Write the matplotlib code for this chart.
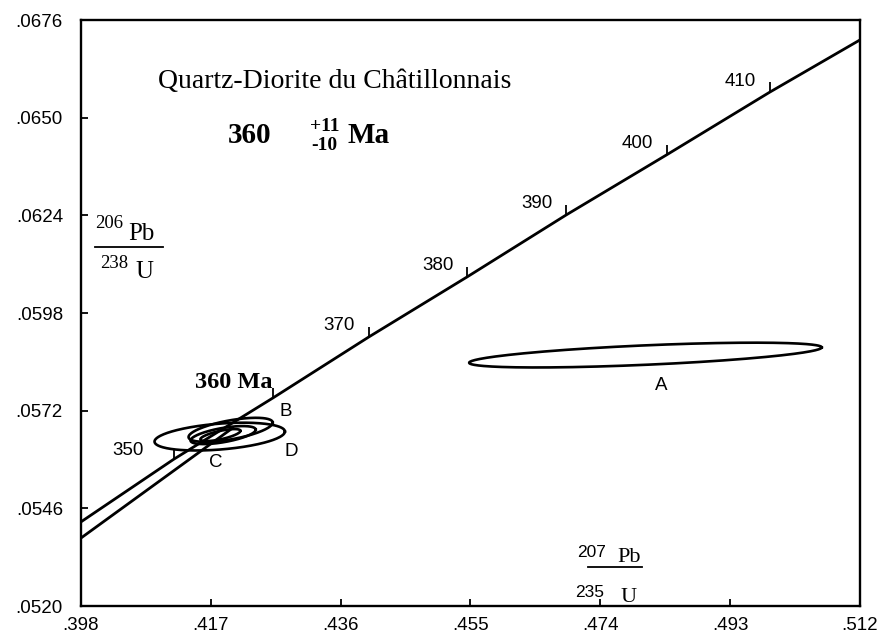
import numpy as np
import matplotlib
matplotlib.use("Agg")
import matplotlib.pyplot as plt

# axis ticks
x_ticks = [0.398, 0.417, 0.436, 0.455, 0.474, 0.493, 0.512]
x_tick_labels = ['.398', '.417', '.436', '.455', '.474', '.493', '.512']
y_ticks = [0.0520, 0.0546, 0.0572, 0.0598, 0.0624, 0.0650, 0.0676]
y_tick_labels = ['.0520', '.0546', '.0572', '.0598', '.0624', '.0650', '.0676']

# concordia: age marks
ages = [350, 360, 370, 380, 390, 400, 410]
conc_x = [0.4116, 0.4261, 0.4401, 0.4545, 0.4690, 0.4837, 0.4988]
conc_y = [0.05591, 0.05754, 0.05916, 0.06076, 0.06241, 0.06401, 0.06568]
# where the curve meets the frame
conc_ends_x = [0.398, 0.512]
conc_ends_y = [0.05424, 0.06707]

# second line in the lower left
disc_x = [0.398, 0.4202]
disc_y = [0.05381, 0.05674]

# error ellipses (centre, half widths, correlation)
ell_x = [0.4806, 0.4199, 0.4188, 0.4184, 0.4183]
ell_y = [0.05868, 0.05669, 0.05655, 0.05655, 0.05651]
ell_sx = [0.0258, 0.00616, 0.00477, 0.00293, 0.00954]
ell_sy = [0.00033, 0.00032, 0.00024, 0.00016, 0.00037]
ell_rho = [0.62, 0.6, 0.6, 0.7, 0.36]

# fraction labels A-D
frac_names = ['A', 'B', 'C', 'D']
frac_x = [0.4829, 0.4279, 0.4177, 0.4287]
frac_y = [0.05788, 0.05717, 0.05583, 0.05610]

serif = 'Liberation Serif'
sans = 'Liberation Sans'

fig = plt.figure(figsize=(8.78, 6.36), dpi=100)
ax = fig.add_axes([81 / 878, 30 / 636, 779 / 878, 586 / 636])

# concordia curve
cx = [conc_ends_x[0]] + conc_x + [conc_ends_x[1]]
cy = [conc_ends_y[0]] + conc_y + [conc_ends_y[1]]
ax.plot(cx, cy, color='black', lw=2.0, solid_capstyle='butt')
ax.plot(conc_x, conc_y, ls='none', marker=2, ms=7, mew=1.3, color='black')

ax.plot(disc_x, disc_y, color='black', lw=2.0)

t = np.linspace(0, 2 * np.pi, 300)
for x0, y0, sx, sy, r in zip(ell_x, ell_y, ell_sx, ell_sy, ell_rho):
    ex = x0 + sx * np.cos(t)
    ey = y0 + sy * (r * np.cos(t) + np.sqrt(1 - r ** 2) * np.sin(t))
    ax.plot(ex, ey, color='black', lw=1.9)

# age labels on the concordia
for a, x, y in zip(ages, conc_x, conc_y):
    if a == 360:
        continue
    off = (-33, 6) if a == 350 else (-21, 8)
    ax.annotate(str(a), (x, y), xytext=off, textcoords='offset points',
                ha='center', va='center', fontsize=13.5, family=sans)

for name, x, y in zip(frac_names, frac_x, frac_y):
    ax.text(x, y, name, ha='center', va='center', fontsize=13.5, family=sans)

# titles and age
ax.text(0.0988, 0.884, 'Quartz-Diorite du Châtillonnais', transform=ax.transAxes,
        fontsize=20, family=serif, va='baseline')
ax.text(0.1887, 0.790, '360', transform=ax.transAxes, fontsize=21,
        family=serif, weight='bold', va='baseline')
ax.text(0.294, 0.8106, '+11', transform=ax.transAxes, fontsize=14,
        family=serif, weight='bold', va='baseline')
ax.text(0.296, 0.778, '-10', transform=ax.transAxes, fontsize=14,
        family=serif, weight='bold', va='baseline')
ax.text(0.3427, 0.790, 'Ma', transform=ax.transAxes, fontsize=21,
        family=serif, weight='bold', va='baseline')
ax.text(0.146, 0.372, '360 Ma', transform=ax.transAxes, fontsize=17.5,
        family=serif, weight='bold', va='baseline')

# 206Pb/238U
ax.text(0.018, 0.645, '206', transform=ax.transAxes, fontsize=13.5, family=serif, va='baseline')
ax.text(0.0603, 0.6246, 'Pb', transform=ax.transAxes, fontsize=18, family=serif, va='baseline')
ax.plot([0.018, 0.105], [0.6126, 0.6126], transform=ax.transAxes, color='black', lw=1.3)
ax.text(0.0244, 0.5768, '238', transform=ax.transAxes, fontsize=13.5, family=serif, va='baseline')
ax.text(0.0693, 0.5597, 'U', transform=ax.transAxes, fontsize=18, family=serif, va='baseline')

# 207Pb/235U
ax.text(0.6367, 0.0836, '207', transform=ax.transAxes, fontsize=12.5, family=sans, va='baseline')
ax.text(0.688, 0.0751, 'Pb', transform=ax.transAxes, fontsize=16, family=serif, va='baseline')
ax.plot([0.6508, 0.7202], [0.0666, 0.0666], transform=ax.transAxes, color='black', lw=1.3)
ax.text(0.634, 0.0154, '235', transform=ax.transAxes, fontsize=12.5, family=sans, va='baseline')
ax.text(0.692, 0.0068, 'U', transform=ax.transAxes, fontsize=16, family=serif, va='baseline')

ax.set_xlim(x_ticks[0], x_ticks[-1])
ax.set_ylim(y_ticks[0], y_ticks[-1])
ax.set_xticks(x_ticks)
ax.set_xticklabels(x_tick_labels, family=sans)
ax.set_yticks(y_ticks)
ax.set_yticklabels(y_tick_labels, family=sans)
ax.tick_params(axis='both', direction='in', length=5, width=1.3, labelsize=13.5)
ax.tick_params(axis='x', pad=8)
ax.tick_params(axis='y', pad=13)
for s in ax.spines.values():
    s.set_linewidth(1.7)

fig.savefig('out.png', dpi=100)
